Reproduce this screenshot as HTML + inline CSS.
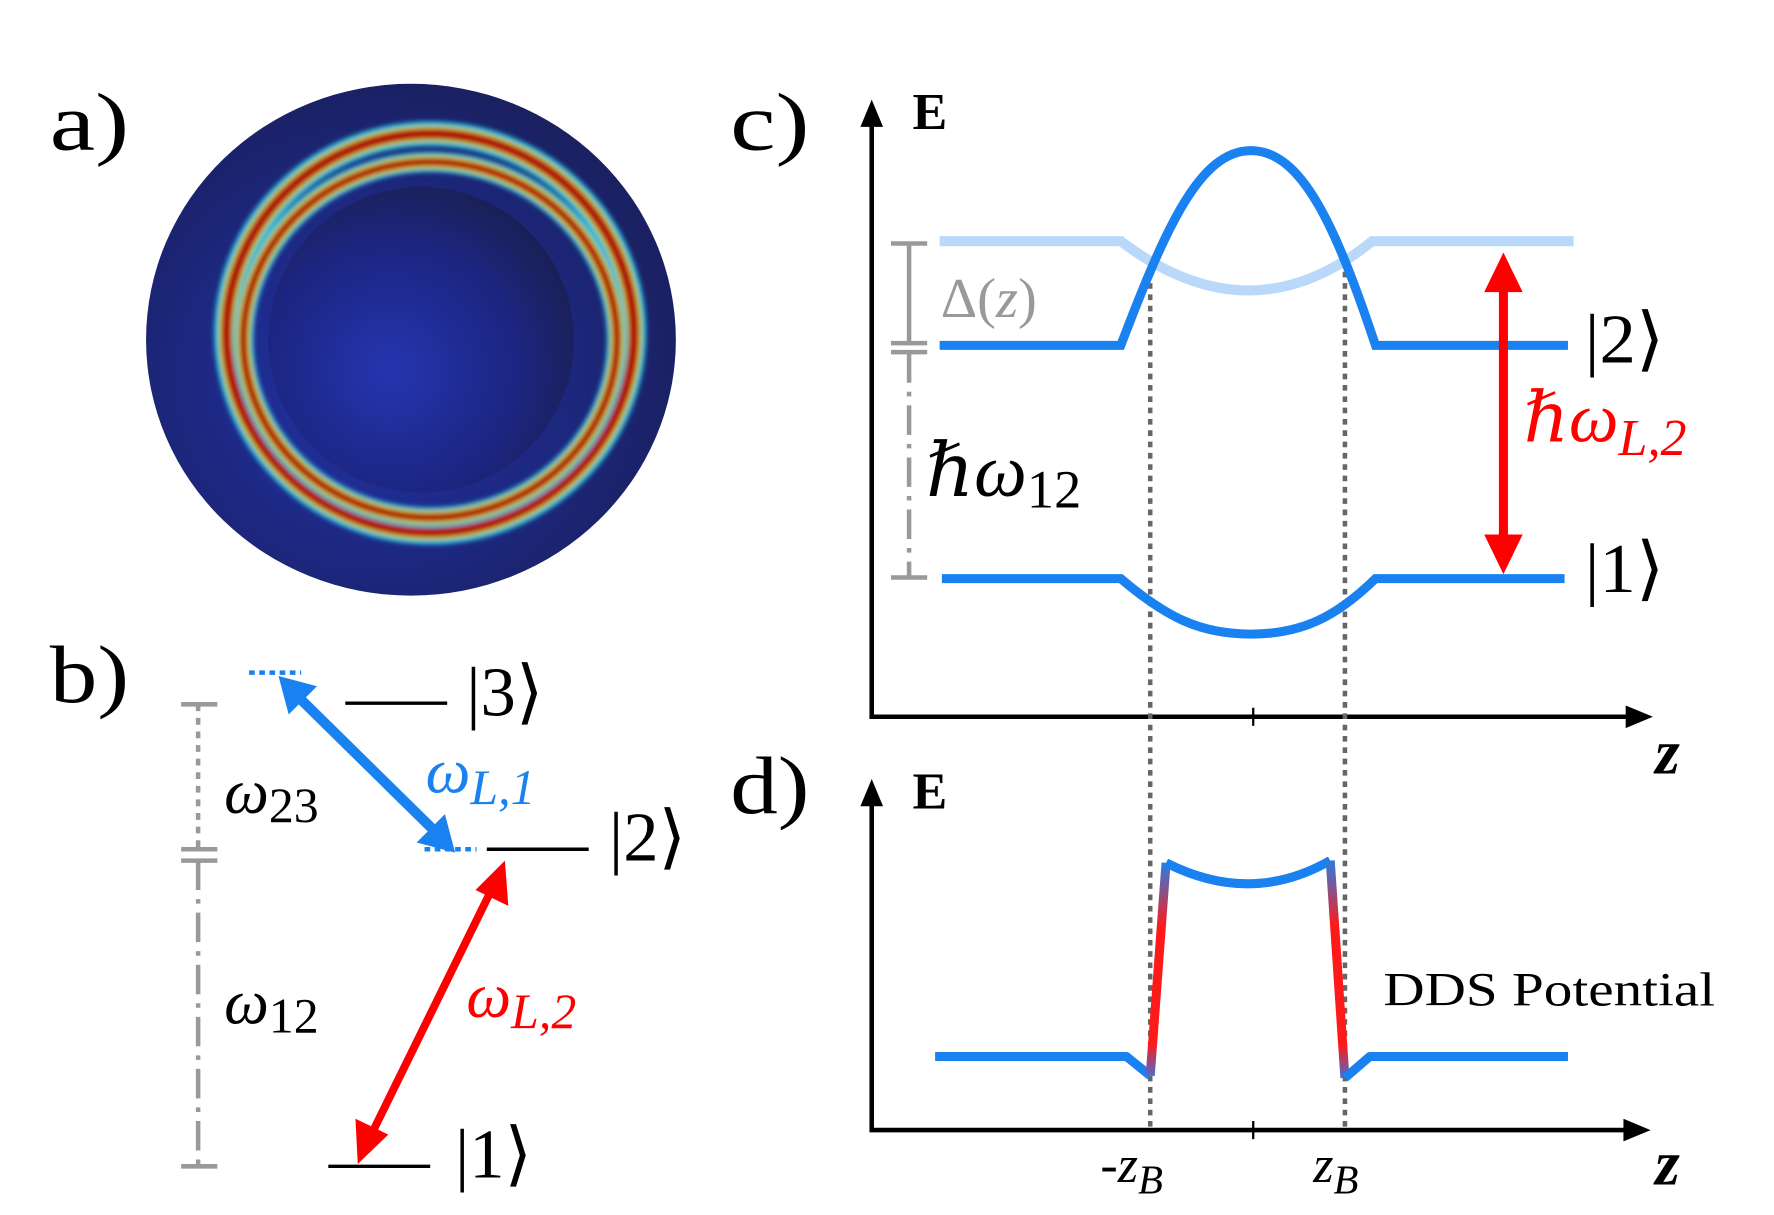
<!DOCTYPE html>
<html><head><meta charset="utf-8"><style>
html,body{margin:0;padding:0;background:#fff;}
svg{display:block;}
text{font-family:"Liberation Serif","DejaVu Serif",serif;}
.it{font-style:italic;}
</style></head><body>
<svg width="1774" height="1215" viewBox="0 0 1567 1073" preserveAspectRatio="none" xmlns="http://www.w3.org/2000/svg">
<defs>
<radialGradient id="disk" cx="0.43" cy="0.58" r="0.6">
<stop offset="0" stop-color="#2233a8"/><stop offset="0.45" stop-color="#1e2a8a"/><stop offset="1" stop-color="#1a2060"/>
</radialGradient>
<radialGradient id="inner" cx="0.4" cy="0.6" r="0.7">
<stop offset="0" stop-color="#2535b0"/><stop offset="0.6" stop-color="#1c2580"/><stop offset="1" stop-color="#1a1f4a"/>
</radialGradient>
<linearGradient id="rg" x1="0" y1="0" x2="0" y2="1">
<stop offset="0" stop-color="#2a7de0"/><stop offset="0.3" stop-color="#ff1a1a"/><stop offset="0.85" stop-color="#ff1a1a"/><stop offset="1" stop-color="#4a6ad0"/>
</linearGradient>
<filter id="bl"><feGaussianBlur stdDeviation="2"/></filter>
</defs>

<!-- a) -->
<text x="44" y="132" font-size="72" textLength="70" lengthAdjust="spacingAndGlyphs">a)</text>
<ellipse cx="363" cy="300" rx="234" ry="226" fill="url(#disk)"/>
<ellipse cx="372" cy="300" rx="135" ry="135" fill="url(#inner)"/>
<g fill="none" filter="url(#bl)">
<ellipse cx="380" cy="294" rx="180" ry="176" stroke="#20b8d8" stroke-width="22"/>
<ellipse cx="380" cy="294" rx="180" ry="176" stroke="#c8d020" stroke-width="14"/>
<ellipse cx="380" cy="294" rx="180" ry="176" stroke="#b01010" stroke-width="9"/>
<ellipse cx="380" cy="300" rx="165" ry="157" stroke="#20b8d8" stroke-width="18"/>
<ellipse cx="380" cy="300" rx="165" ry="157" stroke="#c8d020" stroke-width="12"/>
<ellipse cx="380" cy="300" rx="165" ry="157" stroke="#b01010" stroke-width="7"/>
</g>

<!-- b) -->
<text x="44" y="620" font-size="72" textLength="70" lengthAdjust="spacingAndGlyphs">b)</text>
<g stroke="#000" stroke-width="3">
<line x1="305" y1="621" x2="395" y2="621"/>
<line x1="430" y1="750" x2="520" y2="750"/>
<line x1="290" y1="1030" x2="380" y2="1030"/>
</g>
<g stroke="#1a82f0" stroke-width="4" stroke-dasharray="5,4">
<line x1="220" y1="594" x2="266" y2="594"/>
<line x1="375" y1="750" x2="421" y2="750"/>
</g>
<text x="412" y="632" font-size="62" textLength="68" lengthAdjust="spacingAndGlyphs">|3⟩</text>
<text x="538" y="760" font-size="62" textLength="68" lengthAdjust="spacingAndGlyphs">|2⟩</text>
<text x="402" y="1040" font-size="62" textLength="68" lengthAdjust="spacingAndGlyphs">|1⟩</text>
<line x1="262" y1="614" x2="386" y2="736" stroke="#1a82f0" stroke-width="9"/>
<path d="M246,597 L280,606 L255,631z" fill="#1a82f0"/>
<path d="M402,753 L368,744 L393,719z" fill="#1a82f0"/>
<line x1="437" y1="780" x2="325" y2="1008" stroke="#f00" stroke-width="7"/>
<path d="M446,760 L449,800 L420,786z" fill="#f00"/>
<path d="M316,1028 L314,988 L343,1002z" fill="#f00"/>
<text x="376" y="700" font-size="56" fill="#1a82f0" class="it">ω<tspan font-size="44" dy="10">L,1</tspan></text>
<text x="412" y="898" font-size="56" fill="#f00" class="it">ω<tspan font-size="44" dy="10">L,2</tspan></text>
<g stroke="#999" stroke-width="4" fill="none">
<line x1="175" y1="622" x2="175" y2="750" stroke-dasharray="6,6"/>
<line x1="175" y1="760" x2="175" y2="1030" stroke-dasharray="26,8,4,8"/>
<line x1="160" y1="622" x2="192" y2="622"/>
<line x1="160" y1="750" x2="192" y2="750"/>
<line x1="160" y1="760" x2="192" y2="760"/>
<line x1="160" y1="1030" x2="192" y2="1030"/>
</g>
<text x="198" y="718" font-size="56" class="it">ω<tspan font-size="44" font-style="normal" dy="8">23</tspan></text>
<text x="198" y="904" font-size="56" class="it">ω<tspan font-size="44" font-style="normal" dy="8">12</tspan></text>

<!-- c) -->
<text x="645" y="132" font-size="72" textLength="70" lengthAdjust="spacingAndGlyphs">c)</text>
<g stroke="#000" stroke-width="4" fill="none">
<line x1="770" y1="635" x2="770" y2="105"/>
<line x1="768" y1="633" x2="1440" y2="633"/>
<line x1="1107" y1="625" x2="1107" y2="641" stroke-width="2"/>
</g>
<path d="M770,88 L760,112 L780,112z"/>
<path d="M1460,633 L1436,623 L1436,643z"/>
<text x="806" y="114" font-size="46" font-weight="bold">E</text>
<text x="1462" y="683" font-size="56" font-weight="bold" class="it">z</text>
<path d="M830,213 L990,213 Q1105,300 1212,213 L1390,213" stroke="#1a82f0" stroke-opacity="0.3" stroke-width="9" fill="none"/>
<g stroke="#999" stroke-width="4" fill="none">
<line x1="803" y1="215" x2="803" y2="305"/>
<line x1="787" y1="215" x2="819" y2="215"/>
<line x1="787" y1="303" x2="819" y2="303"/>
<line x1="787" y1="311" x2="819" y2="311"/>
<line x1="803" y1="312" x2="803" y2="510" stroke-dasharray="26,8,4,8"/>
<line x1="787" y1="510" x2="819" y2="510"/>
</g>
<text x="831" y="280" font-size="50" fill="#999">Δ(<tspan class="it">z</tspan>)</text>
<text x="818" y="438" font-size="66" class="it">ℏω<tspan font-size="48" font-style="normal" dy="10">12</tspan></text>
<g stroke="#666" stroke-width="4" stroke-dasharray="5,5">
<line x1="1016" y1="240" x2="1016" y2="998"/>
<line x1="1188" y1="240" x2="1188" y2="998"/>
</g>
<g stroke="#1a82f0" stroke-width="8" fill="none">
<path d="M830,305 L990,305 C1030,200 1060,133 1105,133 C1150,133 1180,200 1215,305 L1385,305"/>
<path d="M832,511 L990,511 C1030,545 1060,560 1105,560 C1150,560 1180,545 1215,511 L1382,511"/>
</g>
<line x1="1328" y1="250" x2="1328" y2="480" stroke="#f00" stroke-width="8"/>
<path d="M1328,223 L1311,258 L1345,258z" fill="#f00"/>
<path d="M1328,507 L1311,472 L1345,472z" fill="#f00"/>
<text x="1400" y="320" font-size="62" textLength="70" lengthAdjust="spacingAndGlyphs">|2⟩</text>
<text x="1400" y="523" font-size="62" textLength="70" lengthAdjust="spacingAndGlyphs">|1⟩</text>
<text x="1346" y="390" font-size="62" fill="#f00" class="it">ℏω<tspan font-size="46" dy="12">L,2</tspan></text>

<!-- d) -->
<text x="645" y="718" font-size="72" textLength="70" lengthAdjust="spacingAndGlyphs">d)</text>
<g stroke="#000" stroke-width="4" fill="none">
<line x1="770" y1="998" x2="770" y2="705"/>
<line x1="768" y1="998" x2="1440" y2="998"/>
<line x1="1107" y1="990" x2="1107" y2="1006" stroke-width="2"/>
</g>
<path d="M770,688 L760,712 L780,712z"/>
<path d="M1458,998 L1434,988 L1434,1008z"/>
<text x="806" y="714" font-size="46" font-weight="bold">E</text>
<text x="1462" y="1046" font-size="56" font-weight="bold" class="it">z</text>
<g stroke-width="8" fill="none" stroke-linejoin="round">
<path d="M826,933 L995,933 L1016,950" stroke="#1a82f0"/>
<path d="M1016,950 L1030,762" stroke="url(#rg)"/>
<path d="M1030,762 Q1105,800 1175,760" stroke="#1a82f0"/>
<path d="M1175,760 L1188,952" stroke="url(#rg)"/>
<path d="M1188,952 L1210,933 L1385,933" stroke="#1a82f0"/>
</g>
<text x="1222" y="888" font-size="42" textLength="293" lengthAdjust="spacingAndGlyphs">DDS Potential</text>
<text x="972" y="1044" font-size="46" class="it"><tspan font-style="normal">-</tspan>z<tspan font-size="36" dy="10">B</tspan></text>
<text x="1160" y="1044" font-size="46" class="it">z<tspan font-size="36" dy="10">B</tspan></text>
</svg>
</body></html>
